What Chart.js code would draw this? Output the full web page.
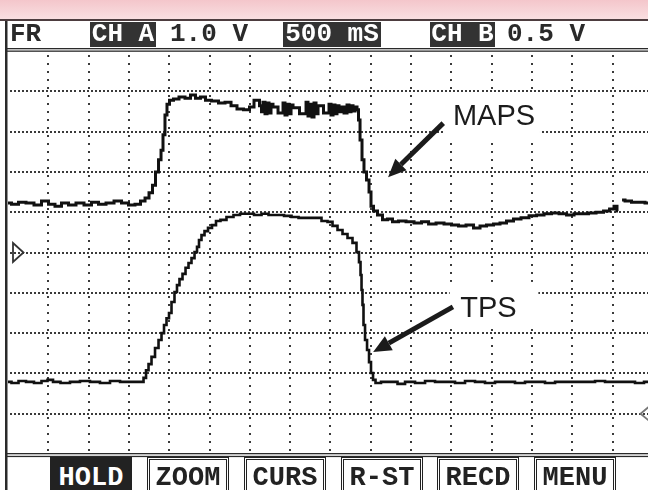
<!DOCTYPE html>
<html>
<head>
<meta charset="utf-8">
<script src="https://cdn.jsdelivr.net/npm/chart.js@4.4.0/dist/chart.umd.min.js"></script>
<style>
html,body{margin:0;padding:0;background:#fff;}
#wrap{position:relative;width:648px;height:490px;overflow:hidden;background:#fff;}
#scope{position:absolute;left:0;top:0;}
#band{position:absolute;left:0;top:0;width:648px;height:19px;background:linear-gradient(#f4c6cb,#f9dfe1);border-bottom:2px solid #4d3d3f;box-sizing:content-box;}
.mono{position:absolute;top:22px;height:25px;font-family:"Liberation Mono","DejaVu Sans Mono",monospace;font-weight:bold;font-size:26px;line-height:25px;color:#2a2a2a;white-space:pre;text-align:center;}
.inv{background:#333;color:#fff;}
.btn{position:absolute;top:457px;width:82px;height:42px;box-sizing:border-box;border:3px double #222;background:#fff;font-family:"Liberation Mono","DejaVu Sans Mono",monospace;font-weight:bold;font-size:27px;line-height:37px;color:#222;text-align:center;white-space:pre;}
.btn.on{background:#222;color:#fff;border:3px solid #222;}
</style>
</head>
<body>
<div id="wrap">
<canvas id="scope" width="648" height="490"></canvas>
<div id="band"></div>
<div class="mono" style="left:10px;text-align:left;">FR</div>
<div class="mono inv" style="left:90px;width:66px;">CH A</div>
<div class="mono" style="left:170px;text-align:left;">1.0 V</div>
<div class="mono inv" style="left:283px;width:98px;">500 mS</div>
<div class="mono inv" style="left:430px;width:65px;">CH B</div>
<div class="mono" style="left:507px;text-align:left;">0.5 V</div>
<div class="btn on" style="left:50px;">HOLD</div>
<div class="btn" style="left:147px;">ZOOM</div>
<div class="btn" style="left:244px;">CURS</div>
<div class="btn" style="left:341px;">R-ST</div>
<div class="btn" style="left:437px;">RECD</div>
<div class="btn" style="left:534px;">MENU</div>
</div>
<script>
// Time in seconds (500 mS per division), levels in screen divisions (0 = bottom, 10 = top)
const mapsTime = [0.000,0.087,0.174,0.273,0.372,0.459,0.546,0.620,0.707,0.794,0.893,0.993,1.079,1.166,1.266,1.365,1.452,1.538,1.613,1.675,
1.725,1.774,1.811,1.849,1.886,1.911,1.935,1.960,1.985,2.022,2.084,2.159,2.233,2.295,2.357,2.419,2.481,2.568,2.655,2.730,
2.804,2.878,2.965,3.027,3.077,
3.102,3.139,3.151,3.176,3.201,3.226,3.251,3.275,3.300,3.400,3.424,3.449,3.474,3.499,3.524,3.548,
3.685,3.710,3.734,3.759,3.784,3.809,3.834,3.859,3.970,3.995,4.020,4.045,4.069,4.094,4.119,4.144,
4.194,4.218,4.243,4.268,4.293,4.318,4.342,
4.355,4.380,4.404,4.429,4.467,4.491,4.516,4.553,4.615,4.677,4.739,4.801,4.888,4.988,5.087,5.174,
5.261,5.360,5.459,5.546,5.633,5.732,5.819,5.893,5.980,6.067,6.141,6.228,6.315,6.414,6.514,6.600,6.700,6.787,6.886,6.973,
7.072,7.159,7.246,7.345,7.432,7.494,7.543,7.568,7.600,7.618,7.692,7.779,7.866,7.940];
const mapsLevel = [6.23,6.20,6.25,6.23,6.18,6.28,6.20,6.15,6.23,6.18,6.23,6.18,6.25,6.20,6.23,6.28,6.23,6.18,6.20,6.28,
6.35,6.48,6.67,7.00,7.30,7.54,7.92,8.41,8.68,8.78,8.81,8.86,8.83,8.91,8.83,8.86,8.78,8.76,8.71,8.73,
8.64,8.56,8.54,8.61,8.78,
8.78,8.64,8.49,8.73,8.44,8.71,8.46,8.68,8.61,8.46,8.71,8.41,8.68,8.44,8.66,8.59,
8.44,8.73,8.39,8.68,8.36,8.71,8.44,8.64,8.46,8.68,8.41,8.66,8.44,8.64,8.49,8.61,
8.46,8.66,8.49,8.64,8.51,8.61,8.54,
8.29,7.79,7.30,7.00,6.80,6.50,6.15,6.03,5.93,5.81,5.83,5.76,5.78,5.76,5.73,5.76,
5.71,5.73,5.71,5.68,5.66,5.68,5.61,5.66,5.68,5.71,5.73,5.78,5.83,5.86,5.91,5.93,5.96,5.98,5.96,5.93,
5.96,5.96,5.98,6.00,6.03,6.08,6.15,6.03,null,6.30,6.28,6.25,6.25,6.23];

const tpsTime = [0.000,0.087,0.174,0.273,0.372,0.459,0.521,0.596,0.707,0.831,0.955,1.079,1.203,1.328,1.452,1.576,1.663,
1.700,1.725,1.762,1.799,1.849,1.886,1.923,1.948,1.985,2.010,2.047,2.084,2.109,2.146,2.184,2.221,2.258,2.295,2.333,2.357,
2.382,2.419,2.457,2.506,2.556,2.605,2.667,2.754,2.841,2.916,3.002,3.102,3.189,3.275,3.375,3.474,3.561,3.648,3.747,3.846,
3.933,3.995,4.057,4.119,4.181,4.243,4.305,4.342,4.367,4.380,4.392,4.404,4.417,4.442,4.467,4.491,4.516,4.541,4.578,4.677,
4.801,4.864,4.988,5.112,5.236,5.360,5.484,5.608,5.732,5.856,5.980,6.104,6.228,6.352,6.476,6.600,6.725,6.849,6.973,7.097,
7.221,7.345,7.469,7.593,7.717,7.841,7.940];
const tpsLevel = [1.79,1.76,1.81,1.79,1.76,1.81,1.84,1.79,1.76,1.79,1.81,1.79,1.76,1.81,1.79,1.79,1.79,
1.89,2.08,2.23,2.41,2.63,2.83,3.00,3.20,3.37,3.50,3.77,4.02,4.19,4.34,4.47,4.62,4.74,4.86,5.01,5.14,
5.31,5.43,5.53,5.61,5.68,5.78,5.81,5.88,5.93,5.96,5.96,5.93,5.96,5.93,5.93,5.91,5.88,5.86,5.86,5.86,
5.78,5.76,5.66,5.56,5.46,5.36,5.24,5.01,4.76,4.44,4.07,3.70,3.20,2.83,2.58,2.28,2.01,1.84,1.76,1.79,
1.79,1.74,1.79,1.76,1.81,1.79,1.79,1.76,1.81,1.79,1.76,1.79,1.79,1.76,1.79,1.79,1.76,1.79,1.79,1.79,
1.79,1.81,1.79,1.79,1.79,1.76,1.79];

const xDivisions = [0.5,1,1.5,2,2.5,3,3.5,4,4.5,5,5.5,6,6.5,7,7.5];
const yDivisions = [1,2,3,4,5,6,7,8,9];

const callouts = [
  {text:'MAPS', box:[5.42,6.60,8.98,7.84], at:[5.52,8.16], tail:[5.40,8.21], tip:[4.715,6.87]},
  {text:'TPS',  box:[5.48,6.58,4.27,3.13], at:[5.61,3.40], tail:[5.52,3.65], tip:[4.53,2.53]}
];

function pts(xs, ys){ return xs.map((x,i)=>({x:x, y:ys[i]})); }

const scopePlugin = {
  id:'scope',
  beforeDatasetsDraw(chart){
    const ctx = chart.ctx, ca = chart.chartArea, xs = chart.scales.x, ys = chart.scales.y;
    ctx.save();
    ctx.fillStyle = '#3a3a3a';
    yDivisions.forEach(v=>{
      const py = Math.round(ys.getPixelForValue(v)) - 1;
      for(let px = ca.left + 2; px < ca.right; px += 4.03){
        ctx.fillRect(Math.round(px), py, 2, 2);
      }
    });
    xDivisions.forEach(v=>{
      const px = Math.round(xs.getPixelForValue(v)) - 1;
      for(let py = ca.top + 3.5; py < ca.bottom; py += 8.06){
        ctx.fillRect(px, Math.round(py), 2, 2);
      }
    });
    ctx.fillStyle = '#fff';
    callouts.forEach(c=>{
      const x1 = xs.getPixelForValue(c.box[0]), x2 = xs.getPixelForValue(c.box[1]);
      const y1 = ys.getPixelForValue(c.box[2]), y2 = ys.getPixelForValue(c.box[3]);
      ctx.fillRect(x1, y1, x2-x1, y2-y1);
    });
    ctx.fillStyle = '#2a2a2a';
    ctx.fillRect(ca.left-3, 21, 2.5, 470);
    ctx.fillRect(ca.left-1, ca.top-3, ca.right, 1.3);
    ctx.fillRect(ca.left-1, ca.top-0.5, ca.right, 1.3);
    ctx.fillRect(ca.left-1, ca.bottom-1, ca.right, 1.3);
    ctx.fillRect(ca.left-1, ca.bottom+1.8, ca.right, 1.3);
    ctx.restore();
  },
  afterDatasetsDraw(chart){
    const ctx = chart.ctx, ca = chart.chartArea, xs = chart.scales.x, ys = chart.scales.y;
    ctx.save();
    ctx.fillStyle = '#1b1b1b';
    ctx.strokeStyle = '#1b1b1b';
    ctx.font = '29px "Liberation Sans", Arial, sans-serif';
    ctx.textBaseline = 'alphabetic';
    callouts.forEach(c=>{
      ctx.fillText(c.text, xs.getPixelForValue(c.at[0]), ys.getPixelForValue(c.at[1]));
      const tx = xs.getPixelForValue(c.tail[0]), ty = ys.getPixelForValue(c.tail[1]);
      const hx = xs.getPixelForValue(c.tip[0]), hy = ys.getPixelForValue(c.tip[1]);
      const ang = Math.atan2(hy-ty, hx-tx);
      const headLen = 18, half = 8;
      const bx = hx - headLen*Math.cos(ang), by = hy - headLen*Math.sin(ang);
      ctx.lineWidth = 5; ctx.lineCap = 'butt';
      ctx.beginPath(); ctx.moveTo(tx,ty); ctx.lineTo(bx,by); ctx.stroke();
      ctx.beginPath();
      ctx.moveTo(hx,hy);
      ctx.lineTo(bx + half*Math.sin(ang), by - half*Math.cos(ang));
      ctx.lineTo(bx - half*Math.sin(ang), by + half*Math.cos(ang));
      ctx.closePath(); ctx.fill();
    });
    ctx.lineWidth = 1.8;
    ctx.strokeStyle = '#333';
    const ly = ys.getPixelForValue(5);
    ctx.beginPath();
    ctx.moveTo(ca.left+5, ly-9.5); ctx.lineTo(ca.left+15.5, ly); ctx.lineTo(ca.left+5, ly+9.5); ctx.closePath(); ctx.stroke();
    const ry = ys.getPixelForValue(1);
    ctx.strokeStyle = '#777';
    ctx.beginPath();
    ctx.moveTo(ca.right+4, ry-9.5); ctx.lineTo(ca.right-7.5, ry); ctx.lineTo(ca.right+4, ry+9.5); ctx.stroke();
    ctx.restore();
  }
};

new Chart(document.getElementById('scope'), {
  type:'line',
  data:{
    datasets:[
      {label:'MAPS', data:pts(mapsTime, mapsLevel), borderColor:'#111', borderWidth:3, pointRadius:0, stepped:'middle', fill:false, spanGaps:false, borderJoinStyle:'miter'},
      {label:'TPS', data:pts(tpsTime, tpsLevel), borderColor:'#111', borderWidth:2.6, pointRadius:0, stepped:'middle', fill:false, spanGaps:false, borderJoinStyle:'miter'}
    ]
  },
  options:{
    responsive:false,
    animation:false,
    layout:{padding:{left:8, right:0, top:51, bottom:36}},
    scales:{
      x:{type:'linear', min:0, max:7.94, display:false},
      y:{type:'linear', min:0, max:10, display:false}
    },
    plugins:{legend:{display:false}, tooltip:{enabled:false}},
    events:[]
  },
  plugins:[scopePlugin]
});
</script>
</body>
</html>
